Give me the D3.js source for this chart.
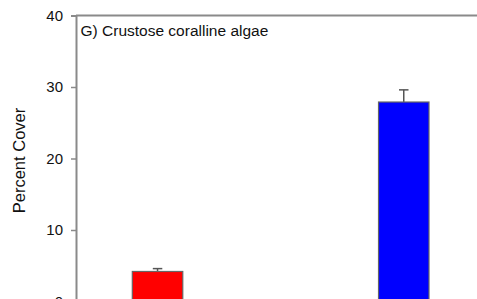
<!DOCTYPE html>
<html>
<head>
<meta charset="utf-8">
<script src="https://cdn.jsdelivr.net/npm/d3@7"></script>
<style>
  html, body { margin: 0; padding: 0; background: #fff; }
  svg { display: block; }
  text { font-family: "Liberation Sans", Arial, sans-serif; }
</style>
</head>
<body>
<svg id="chart" width="477" height="299"></svg>
<script>
const categories = ["Group A", "Group B"];
const values = [4.2, 27.9];
const errors = [0.4, 1.7];
const colors = ["#ff0000", "#0000ff"];
const yTicks = [0, 10, 20, 30, 40];
const title = "G) Crustose coralline algae";
const yLabel = "Percent Cover";

(function () {
const svg = d3.select("#chart");
const mLeft = 76, mTop = 15.5, mBottom = 301.5;

const x = d3.scaleBand()
  .domain(categories)
  .range([mLeft, 485.3])
  .paddingInner(0.795)
  .paddingOuter(0.2287);

const y = d3.scaleLinear().domain([0, 40]).range([mBottom, mTop]);

const axisColor = "#8a8a8a";

// top frame line
svg.append("line")
  .attr("x1", mLeft).attr("x2", 477)
  .attr("y1", y(40)).attr("y2", y(40))
  .attr("stroke", axisColor).attr("stroke-width", 2);

// y axis
const yAxis = d3.axisLeft(y).tickValues(yTicks).tickSize(5).tickPadding(8).tickFormat(d3.format("d"));
const gy = svg.append("g").attr("transform", `translate(${mLeft},0)`).call(yAxis);
gy.select(".domain").attr("stroke", axisColor).attr("stroke-width", 2);
gy.selectAll(".tick line").attr("stroke", axisColor).attr("stroke-width", 1.5);
gy.selectAll(".tick text")
  .attr("fill", "#111")
  .style("font-size", "15px")
  .style("font-family", "'Liberation Sans', Arial, sans-serif");

// error bars
const bw = x.bandwidth();
const capW = 9.5;
const eg = svg.append("g");
categories.forEach((c, i) => {
  const cx = x(c) + bw / 2;
  eg.append("line")
    .attr("x1", cx).attr("x2", cx)
    .attr("y1", y(values[i])).attr("y2", y(values[i] + errors[i]))
    .attr("stroke", "#555").attr("stroke-width", 1.5);
  eg.append("line")
    .attr("x1", cx - capW / 2).attr("x2", cx + capW / 2)
    .attr("y1", y(values[i] + errors[i])).attr("y2", y(values[i] + errors[i]))
    .attr("stroke", "#555").attr("stroke-width", 1.5);
});

// bars
svg.append("g").selectAll("rect")
  .data(categories)
  .join("rect")
  .attr("x", d => x(d))
  .attr("width", bw)
  .attr("y", (d, i) => y(values[i]))
  .attr("height", (d, i) => y(0) - y(values[i]))
  .attr("fill", (d, i) => colors[i])
  .attr("stroke", "#666")
  .attr("stroke-width", 1.2);

// title
svg.append("text")
  .attr("x", 80.5).attr("y", 35.5)
  .attr("fill", "#111")
  .style("font-size", "15.5px")
  .text(title);

// y label
svg.append("text")
  .attr("transform", `translate(25,${(y(0) + y(40)) / 2 + 2}) rotate(-90)`)
  .attr("text-anchor", "middle")
  .attr("fill", "#111")
  .style("font-size", "16.5px")
  .text(yLabel);
})();
</script>
</body>
</html>
